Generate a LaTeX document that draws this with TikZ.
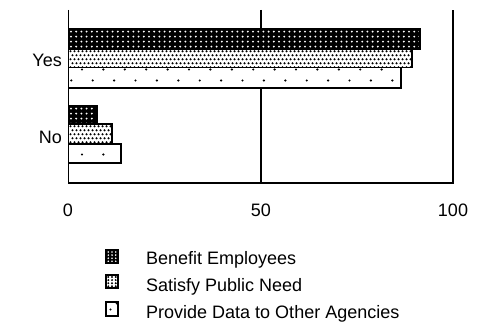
\documentclass[tikz,border=0pt]{standalone}
\usepackage{fontspec}
\setmainfont{Liberation Sans}
\begin{document}
\begin{tikzpicture}[x=1pt,y=-1pt,
  axisline/.style={line width=1.2pt,black},
  barframe/.style={line width=1.2pt,black},
  lbl/.style={inner sep=0pt,font=\fontsize{18}{20}\selectfont}]
\useasboundingbox (0,0) rectangle (493,334);

% dense black field with white dots
\newcommand\fillBenefit[4]{%
  \fill[black] (#1,#2) rectangle (#3,#4);
  \begin{scope}
    \clip (#1,#2) rectangle (#3,#4);
    \foreach \i in {0,...,90}{\foreach \j in {0,...,4}{%
      \fill[white] ({#1+2.5+5.2*\i},{#2+2.6+5*\j}) circle[radius=1.05pt];}}
  \end{scope}
  \draw[barframe] (#1,#2) rectangle (#3,#4);}
% white field with dense black dots, rows staggered
\newcommand\fillSatisfy[4]{%
  \fill[white] (#1,#2) rectangle (#3,#4);
  \begin{scope}
    \clip (#1,#2) rectangle (#3,#4);
    \foreach \i in {0,...,100}{\foreach \j in {0,...,5}{%
      \pgfmathsetmacro\sh{mod(\j,2)*2}
      \fill[black] ({#1+2+\sh+4*\i},{#2+2.3+4*\j}) circle[radius=1.2pt];}}
  \end{scope}
  \draw[barframe] (#1,#2) rectangle (#3,#4);}
% white field with sparse black dots on a fixed lattice
\newcommand\fillProvide[4]{%
  \fill[white] (#1,#2) rectangle (#3,#4);
  \begin{scope}
    \clip (#1,#2) rectangle (#3,#4);
    \foreach \i in {0,...,18}{\foreach \j in {0,...,5}{%
      \fill[black] ({82+21.4*\i},{69.5+42.5*\j}) circle[radius=1.2pt];
      \fill[black] ({71.3+21.4*\i},{80.5+42.5*\j}) circle[radius=1.2pt];}}
  \end{scope}
  \draw[barframe] (#1,#2) rectangle (#3,#4);}

% axes (drawn first, bars cover them)
\coordinate (lt) at (68.5,10);
\coordinate (lb) at (68.5,183);
\coordinate (mt) at (261,10);
\coordinate (mb) at (261,183);
\coordinate (rt) at (453,10);
\coordinate (rb) at (453,183);
\draw[axisline] (lt) -- (lb) -- (rb) -- (rt);
\draw[axisline] (mt) -- (mb);

% bars: Yes group
\fillBenefit{68.5}{29}{420}{49}
\fillSatisfy{68.5}{49}{412}{67.5}
\fillProvide{68.5}{67.5}{401}{88}
% bars: No group
\fillBenefit{68.5}{106}{97}{124}
\fillSatisfy{68.5}{124}{112}{144}
\fillProvide{68.5}{144}{121}{163}

% category labels
\node[lbl,anchor=base east] (yes) at (62,67) {Yes};
\node[lbl,anchor=base east] (no) at (62,143.5) {No};

% scale labels
\node[lbl,anchor=base] (t0) at (68,216) {0};
\node[lbl,anchor=base] (t50) at (261,216) {50};
\node[lbl,anchor=base] (t100) at (453,216) {100};

% legend keys
\fill[black] (106,250) rectangle (118,263);
\foreach \i in {0,1,2}{\foreach \j in {0,1,2,3}{%
  \fill[white] ({108.3+3.7*\i},{252+3.1*\j}) circle[radius=0.9pt];}}
\draw[barframe] (106,250) rectangle (118,263);
\fill[white] (106,275) rectangle (118,288);
\foreach \i in {0,1,2}{\foreach \j in {0,1,2,3}{%
  \fill[black] ({108.3+3.7*\i},{277+3.1*\j}) circle[radius=1.1pt];}}
\draw[barframe] (106,275) rectangle (118,288);
\draw[barframe,fill=white] (106,302) rectangle (118,316);
\fill[black] (110.5,309.5) circle[radius=1.2pt];
\fill[black] (116.5,303.5) circle[radius=1.0pt];

% legend texts
\node[lbl,anchor=base west] (l1) at (146,264) {Benefit Employees};
\node[lbl,anchor=base west] (l2) at (146,291) {Satisfy Public Need};
\node[lbl,anchor=base west] (l3) at (146,318) {Provide Data to Other Agencies};
\end{tikzpicture}
\end{document}
